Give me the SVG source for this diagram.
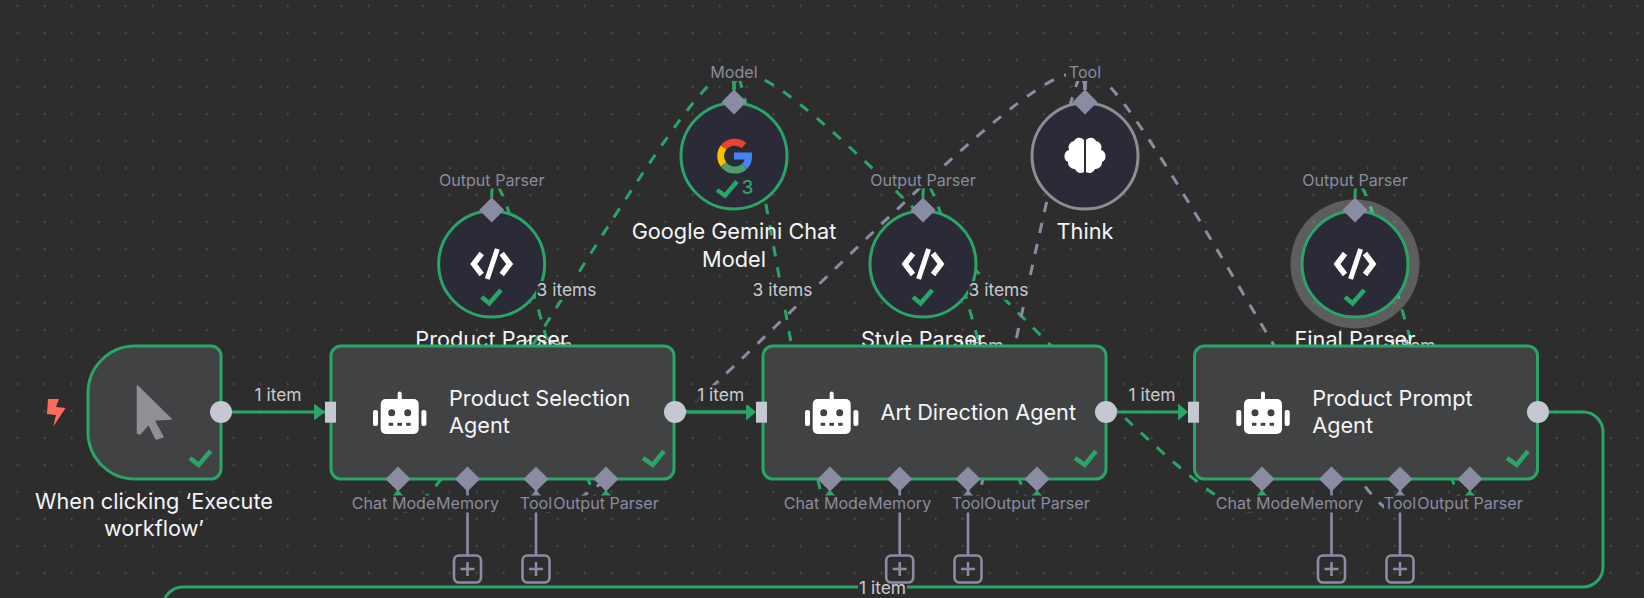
<svg xmlns="http://www.w3.org/2000/svg" width="1644" height="598" viewBox="0 0 1644 598">
<style>
text{font-family:Inter,"Liberation Sans",sans-serif}
.bg{fill:#2d2d2d}
.title{font-size:21.7px;fill:#f5f5f7}
.center{text-anchor:middle}
.port{font-size:16.1px;fill:#8a8ba0;text-anchor:middle}
.elabel{font-size:17.4px;fill:#c9cad0;text-anchor:middle}
.d{fill:none;stroke-width:3;stroke-dasharray:10.5 11}
.dg{stroke:#29a568}
.dn{stroke:#8a8ca3}
.main{fill:none;stroke:#29a568;stroke-width:3}
.agent{fill:#414244;stroke:#29a568;stroke-width:3}
.circ{fill:#2b2b38;stroke:#29a568;stroke-width:3}
.dia{fill:#8a8ca3}
.port-bg{fill:#2d2d2d}
.stem{stroke:#8a8ca3;stroke-width:2.6;fill:none}
.plus{fill:none;stroke:#8a8ca3;stroke-width:2.6}
.check{fill:none;stroke:#29a568;stroke-width:4.5}
.w{fill:#fff}
</style>
<defs>
<pattern id="dots" patternUnits="userSpaceOnUse" x="4.2" y="-7.5" width="27" height="27"><circle cx="13.5" cy="13.5" r="0.9" fill="#5c5c5c"/></pattern>
<path id="dmd" class="dia" d="M0,-12.5L12.5,0L0,12.5L-12.5,0Z"/>
<polyline id="chk" class="check" points="-10,33 -2.4,39.3 9.3,26"/>
<g id="code"><path d="M-10,-10.5L-18,0L-10,10.5M10,-10.5L18,0L10,10.5" fill="none" stroke="#fff" stroke-width="5.5"/><path d="M5.6,-15L-4.4,15" fill="none" stroke="#fff" stroke-width="5"/></g>
<g id="robot">
<rect class="w" x="-19" y="-13.5" width="38" height="35" rx="5"/>
<rect class="w" x="-26.7" y="-2.5" width="5" height="16" rx="2"/>
<rect class="w" x="21.7" y="-2.5" width="5" height="16" rx="2"/>
<rect class="w" x="-2" y="-21" width="4" height="9" rx="2"/>
<circle cx="-8" cy="0.2" r="3.5" fill="#414244"/><circle cx="8" cy="0.2" r="3.5" fill="#414244"/>
<rect x="-11" y="10.3" width="4.4" height="3" fill="#414244"/><rect x="-2.3" y="10.3" width="4.6" height="3" fill="#414244"/><rect x="6.6" y="10.3" width="4.4" height="3" fill="#414244"/>
</g>
<path id="tri" d="M0,-6L6.5,1H-6.5Z"/>
<g id="add"><rect class="plus" x="-13.5" y="-13.5" width="27" height="27" rx="5"/><path class="plus" d="M-7,0H7M0,-7V7"/></g>
</defs>
<rect width="1644" height="598" class="bg"/>
<rect width="1644" height="598" fill="url(#dots)"/>

<g id="connectors">
<g class="d dg">
<path d="M734,90C734,-36 398,621 398,495"/>
<path d="M734,90C734,-36 830,621 830,495"/>
<path d="M734,90C734,-36 1262,621 1262,495"/>
<path d="M491.7,198C491.7,90 606,603 606,495"/>
<path d="M923,198C923,90 1037,603 1037,495"/>
<path d="M1355,198C1355,90 1470,603 1470,495"/>
</g>
<g class="d dn">
<path d="M1085,90C1085,-36 536,621 536,495"/>
<path d="M1085,90C1085,-36 968,621 968,495"/>
<path d="M1085,90C1085,-36 1400,621 1400,495"/>
</g>
<text class="elabel" x="549" y="352">1 item</text>
<text class="elabel" x="980" y="352">1 item</text>
<text class="elabel" x="1412" y="352">1 item</text>
<path class="main" d="M232,412H746"/>
<path class="main" d="M686,412H746"/>
<path class="main" d="M1117,412H1178"/>
<path class="main" d="M1549,412H1583A20,20 0 0 1 1603,432V567A20,20 0 0 1 1583,587H183A20,20 0 0 0 163,607"/>
</g>

<g id="final-halo"><circle cx="1355" cy="264" r="64.5" fill="#fff" opacity="0.23"/></g>

<g id="product-parser">
<circle class="circ" cx="491.7" cy="264" r="53"/>
<use href="#code" x="491.7" y="264"/><use href="#chk" x="491.7" y="264"/>
<use href="#dmd" x="491.7" y="210"/>
<rect class="port-bg" x="438" y="171.5" width="107" height="17"/>
<text class="port" x="491.7" y="185.5">Output Parser</text>
<text class="title center" x="491.7" y="347">Product Parser</text>
</g>
<g id="style-parser">
<circle class="circ" cx="923" cy="264" r="53"/>
<use href="#code" x="923" y="264"/><use href="#chk" x="923" y="264"/>
<use href="#dmd" x="923" y="210"/>
<rect class="port-bg" x="870" y="171.5" width="107" height="17"/>
<text class="port" x="923" y="185.5">Output Parser</text>
<text class="title center" x="923" y="347">Style Parser</text>
</g>
<g id="final-parser">
<circle class="circ" cx="1355" cy="264" r="53"/>
<use href="#code" x="1355" y="264"/><use href="#chk" x="1355" y="264"/>
<use href="#dmd" x="1355" y="210"/>
<rect class="port-bg" x="1302" y="171.5" width="107" height="17"/>
<text class="port" x="1355" y="185.5">Output Parser</text>
<text class="title center" x="1355" y="347">Final Parser</text>
</g>
<g id="gemini">
<circle class="circ" cx="734" cy="156" r="53"/>
<g fill="none" stroke-width="7">
<path d="M723.5,147.5A14.5,14.5 0 0 1 744,145.5" stroke="#ea4335"/>
<path d="M723.5,147.5A14.5,14.5 0 0 0 723.5,164.5" stroke="#fbbc05"/>
<path d="M723.5,164.5A14.5,14.5 0 0 0 744.5,166.5" stroke="#4f9e6a"/>
<path d="M744.5,166.5A14.5,14.5 0 0 0 748.5,156H734" stroke="#4285f4"/>
</g>
<polyline class="check" points="717,190 725,195.5 737,181.5"/>
<text x="741.5" y="194" font-size="19" font-weight="500" fill="#29a568">3</text>
<use href="#dmd" x="734" y="102"/>
<rect class="port-bg" x="708" y="64" width="52" height="17"/>
<text class="port" x="734" y="78">Model</text>
<text class="title center" x="734" y="239">Google Gemini Chat</text>
<text class="title center" x="734" y="266.5">Model</text>
</g>
<g id="think">
<circle class="circ" cx="1085" cy="156" r="53" style="stroke:#8d8d95"/>
<path class="w" d="M1084,140A6,6 0 0 0 1074,141A6.5,6.5 0 0 0 1069,150A6.5,6.5 0 0 0 1068,162A6.5,6.5 0 0 0 1075,169A6,6 0 0 0 1084,172Z"/>
<path class="w" d="M1086,140A6,6 0 0 1 1096,141A6.5,6.5 0 0 1 1101,150A6.5,6.5 0 0 1 1102,162A6.5,6.5 0 0 1 1095,169A6,6 0 0 1 1086,172Z"/>
<use href="#dmd" x="1085" y="102"/>
<rect class="port-bg" x="1066" y="64" width="38" height="17"/>
<text class="port" x="1085" y="78">Tool</text>
<text class="title center" x="1085" y="239">Think</text>
</g>

<g id="item-labels">
<rect class="bg" x="536" y="281" width="61" height="19" opacity="0.85"/>
<text class="elabel" x="566.5" y="296">3 items</text>
<rect class="bg" x="752" y="281" width="61" height="19" opacity="0.85"/>
<text class="elabel" x="782.5" y="296">3 items</text>
<rect class="bg" x="968" y="281" width="61" height="19" opacity="0.85"/>
<text class="elabel" x="998.5" y="296">3 items</text>
</g>

<g id="trigger">
<path class="agent" d="M135,346H211A10,10 0 0 1 221,356V469A10,10 0 0 1 211,479H135A47,47 0 0 1 88,432V393A47,47 0 0 1 135,346Z"/>
<path d="M137.5,386L171,419L154,420L163,437L156,439L148.7,424L140,434L137.5,433Z" fill="#8f9095" stroke="#8f9095" stroke-width="1.5" stroke-linejoin="round"/>
<path d="M48,399H59L56,407L65.6,408L53,427L56,415L47,414Z" fill="#ff6d5a"/>
<polyline class="check" points="190,458 198.6,465 210.7,451"/>
<circle cx="221" cy="412" r="11" fill="#c5c8d3"/>
<text class="title center" x="154" y="509">When clicking ‘Execute</text>
<text class="title center" x="154" y="536">workflow’</text>
</g>

<g id="product-selection-agent">
<rect class="agent" x="331" y="346" width="343" height="133" rx="10"/>
<use href="#robot" x="399.7" y="412.5"/>
<text class="title" x="449" y="406">Product Selection</text><text class="title" x="449" y="433">Agent</text>
<polyline class="check" points="643,458 652.7,465 664,451"/>
<rect x="325" y="401.7" width="11" height="21" fill="#c5c8d3"/>
<polygon points="314,403.5 325,412 314,420.5" fill="#29a568"/>
<circle cx="675" cy="412" r="11" fill="#c5c8d3"/>
<path class="stem" d="M467.5,479V555M536,479V555"/>
<use href="#tri" x="398" y="496" fill="#29a568"/><use href="#tri" x="536" y="496" fill="#8a8ca3"/><use href="#tri" x="606" y="496" fill="#29a568"/>
<use href="#dmd" x="398" y="479"/><use href="#dmd" x="467.5" y="479"/><use href="#dmd" x="536" y="479"/><use href="#dmd" x="606" y="479"/>
<rect class="port-bg" x="350" y="495.5" width="86" height="17"/><text class="port" x="395.5" y="509">Chat Model</text>
<rect class="port-bg" x="436" y="495.5" width="65" height="17"/><text class="port" x="467.5" y="509">Memory</text>
<rect class="port-bg" x="520" y="495.5" width="33" height="17"/><text class="port" x="536" y="509">Tool</text>
<rect class="port-bg" x="553" y="495.5" width="106" height="17"/><text class="port" x="606" y="509">Output Parser</text>
<use href="#add" x="467.5" y="569"/><use href="#add" x="536" y="569"/>
</g>

<g id="art-direction-agent">
<rect class="agent" x="763" y="346" width="343" height="133" rx="10"/>
<use href="#robot" x="831.7" y="412.5"/>
<text class="title" x="880.5" y="420">Art Direction Agent</text>
<polyline class="check" points="1075,458 1084.7,465 1096,451"/>
<rect x="756" y="401.7" width="11" height="21" fill="#c5c8d3"/>
<polygon points="746,403.5 756,412 746,420.5" fill="#29a568"/>
<circle cx="1106" cy="412" r="11" fill="#c5c8d3"/>
<path class="stem" d="M899.7,479V555M968,479V555"/>
<use href="#tri" x="830" y="496" fill="#29a568"/><use href="#tri" x="968" y="496" fill="#8a8ca3"/><use href="#tri" x="1037" y="496" fill="#29a568"/>
<use href="#dmd" x="830" y="479"/><use href="#dmd" x="899.7" y="479"/><use href="#dmd" x="968" y="479"/><use href="#dmd" x="1037" y="479"/>
<rect class="port-bg" x="782" y="495.5" width="86" height="17"/><text class="port" x="827.5" y="509">Chat Model</text>
<rect class="port-bg" x="868" y="495.5" width="65" height="17"/><text class="port" x="899.7" y="509">Memory</text>
<rect class="port-bg" x="952" y="495.5" width="33" height="17"/><text class="port" x="968" y="509">Tool</text>
<rect class="port-bg" x="985" y="495.5" width="106" height="17"/><text class="port" x="1037" y="509">Output Parser</text>
<use href="#add" x="899.7" y="569"/><use href="#add" x="968" y="569"/>
</g>

<g id="product-prompt-agent">
<rect class="agent" x="1194.5" y="346" width="343" height="133" rx="10"/>
<use href="#robot" x="1263" y="412.5"/>
<text class="title" x="1312.2" y="406">Product Prompt</text><text class="title" x="1312.2" y="433">Agent</text>
<polyline class="check" points="1507,458 1516.7,465 1528,451"/>
<rect x="1188" y="401.7" width="11" height="21" fill="#c5c8d3"/>
<polygon points="1178,403.5 1188,412 1178,420.5" fill="#29a568"/>
<circle cx="1538" cy="412" r="11" fill="#c5c8d3"/>
<path class="stem" d="M1331.5,479V555M1400,479V555"/>
<use href="#tri" x="1262" y="496" fill="#29a568"/><use href="#tri" x="1400" y="496" fill="#8a8ca3"/><use href="#tri" x="1470" y="496" fill="#29a568"/>
<use href="#dmd" x="1262" y="479"/><use href="#dmd" x="1331.5" y="479"/><use href="#dmd" x="1400" y="479"/><use href="#dmd" x="1470" y="479"/>
<rect class="port-bg" x="1214" y="495.5" width="86" height="17"/><text class="port" x="1259.5" y="509">Chat Model</text>
<rect class="port-bg" x="1300" y="495.5" width="65" height="17"/><text class="port" x="1331.5" y="509">Memory</text>
<rect class="port-bg" x="1384" y="495.5" width="33" height="17"/><text class="port" x="1400" y="509">Tool</text>
<rect class="port-bg" x="1417" y="495.5" width="106" height="17"/><text class="port" x="1470" y="509">Output Parser</text>
<use href="#add" x="1331.5" y="569"/><use href="#add" x="1400" y="569"/>
</g>

<g id="main-labels">
<rect class="bg" x="693" y="385" width="55" height="20" opacity="0.85"/>
<text class="elabel" x="278" y="401">1 item</text>
<text class="elabel" x="720.7" y="401">1 item</text>
<text class="elabel" x="1152" y="401">1 item</text>
<rect class="bg" x="858" y="584" width="49" height="9"/>
<text class="elabel" x="882.5" y="594">1 item</text>
</g>
</svg>
